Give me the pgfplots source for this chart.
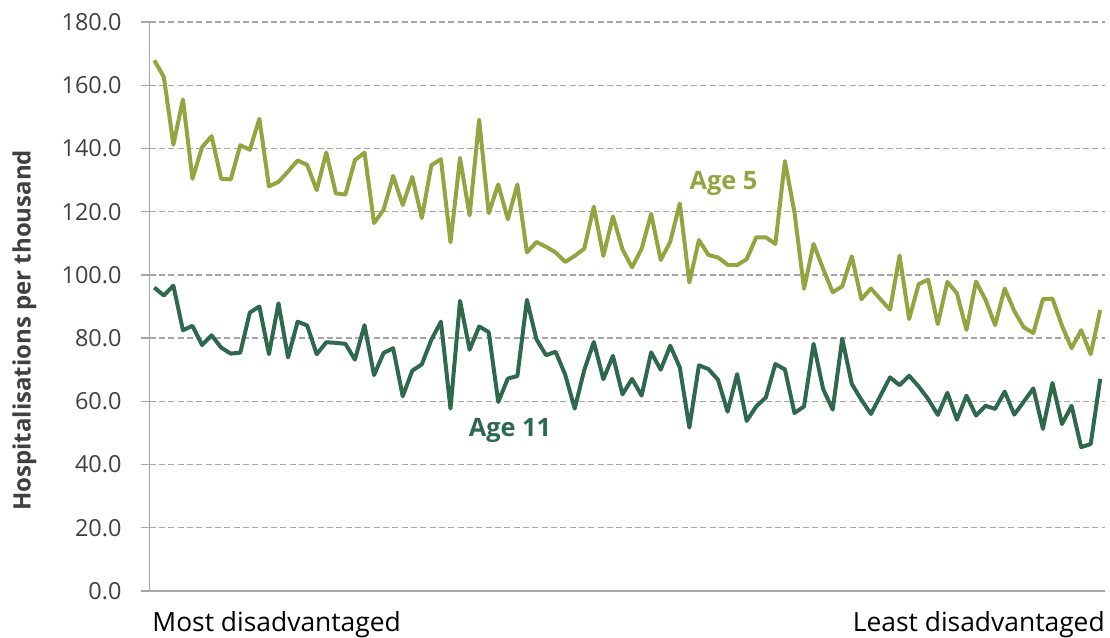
\documentclass[border=0pt]{standalone}
\usepackage{fontspec}
\setmainfont{Open Sans}
\usepackage{pgfplots}
\usepackage{pgfplotstable}
\pgfplotsset{compat=1.18}
\definecolor{agefive}{HTML}{93A541}
\definecolor{ageeleven}{HTML}{2F694D}
\definecolor{gridgray}{HTML}{A6A6A6}
\definecolor{txtgray}{HTML}{404040}

\pgfplotstableread{
i a5 a11
0 167.9 96.0
1 162.6 93.5
2 141.2 96.6
3 155.5 82.5
4 130.4 83.9
5 140.4 77.8
6 143.9 80.9
7 130.4 77.0
8 130.2 75.1
9 141.0 75.4
10 139.6 88.1
11 149.4 90.0
12 128.0 74.9
13 129.4 91.0
14 132.7 73.9
15 136.2 85.2
16 134.8 84.0
17 126.8 74.9
18 138.7 78.7
19 125.8 78.5
20 125.4 78.2
21 136.3 73.2
22 138.7 84.1
23 116.4 68.3
24 120.6 75.3
25 131.3 76.8
26 122.1 61.6
27 131.0 69.7
28 118.0 71.7
29 134.7 79.5
30 136.6 85.2
31 110.3 57.7
32 137.0 91.8
33 118.8 76.3
34 149.1 83.7
35 119.5 81.9
36 128.6 59.8
37 117.6 67.2
38 128.6 68.0
39 107.1 92.1
40 110.4 79.6
41 108.9 74.6
42 107.1 75.7
43 104.1 68.5
44 106.0 57.7
45 108.3 69.9
46 121.6 78.8
47 106.0 67.0
48 118.5 74.4
49 108.1 62.2
50 102.4 67.1
51 108.2 61.8
52 119.3 75.5
53 104.7 70.0
54 110.5 77.6
55 122.6 70.7
56 97.6 51.7
57 111.0 71.4
58 106.3 70.2
59 105.5 66.8
60 103.2 56.7
61 103.1 68.6
62 105.0 53.8
63 111.9 58.4
64 111.9 61.2
65 109.8 71.8
66 136.0 70.1
67 119.8 56.3
68 95.6 58.4
69 109.8 78.2
70 101.9 63.9
71 94.5 57.4
72 96.4 79.8
73 105.9 65.5
74 92.3 60.5
75 95.7 56.0
76 92.3 61.8
77 89.0 67.6
78 106.1 65.1
79 86.0 68.1
80 97.1 64.7
81 98.5 60.7
82 84.4 55.7
83 97.8 62.7
84 94.2 54.2
85 82.6 61.8
86 97.9 55.5
87 92.1 58.6
88 84.1 57.6
89 95.7 63.1
90 88.6 55.8
91 83.4 59.9
92 81.6 64.1
93 92.3 51.3
94 92.5 65.8
95 83.9 52.8
96 76.8 58.6
97 82.5 45.5
98 74.9 46.5
99 88.9 67.1
}\data

\begin{document}
\begin{tikzpicture}
\useasboundingbox (0,0) rectangle (832.5pt,477.75pt);
\begin{axis}[
  at={(112.125pt,34.5pt)}, anchor=south west,
  width=716.625pt, height=426.75pt, scale only axis,
  xmin=-0.5, xmax=99.5, ymin=0, ymax=180,
  axis x line*=bottom, axis y line*=left,
  axis line style={draw=gridgray, line width=1pt},
  xtick=\empty,
  ytick={0,20,...,180},
  ytick pos=left,
  tick align=outside,
  major tick length=6.75pt,
  ytick style={draw=gridgray, line width=1pt},
  ymajorgrids,
  grid style={draw=gridgray, line width=1pt, dash pattern=on 4.5pt off 2.5pt},
  /pgf/number format/fixed,
  /pgf/number format/fixed zerofill,
  /pgf/number format/precision=1,
  /pgf/number format/assume math mode=true,
  yticklabel style={font=\fontsize{17.6}{19}\selectfont, text=txtgray, inner sep=0pt, xshift=-14pt},
  clip=false,
]
\addplot[agefive, line width=3pt, line join=round] table[x=i, y=a5] {\data};
\addplot[ageeleven, line width=3pt, line join=round] table[x=i, y=a11] {\data};
\node[anchor=base west, font=\fontsize{19}{21}\selectfont\bfseries, text=agefive, inner sep=0pt] at (axis cs:56.0,126.9) {Age 5};
\node[anchor=base west, font=\fontsize{19}{21}\selectfont\bfseries, text=ageeleven, inner sep=0pt] at (axis cs:32.9,48.8) {Age 11};
\node[anchor=base west, font=\fontsize{19.8}{22}\selectfont, text=black, inner sep=0pt] at ([xshift=2pt,yshift=-30.5pt]rel axis cs:0,0) {Most disadvantaged};
\node[anchor=base east, font=\fontsize{19.8}{22}\selectfont, text=black, inner sep=0pt] at ([yshift=-30.5pt]rel axis cs:1,0) {Least disadvantaged};
\end{axis}
\node[rotate=90, anchor=north, inner sep=0pt, font=\fontsize{18}{20}\selectfont\bfseries, text=txtgray] at (9pt, 230pt) {Hospitalisations per thousand};
\end{tikzpicture}
\end{document}
